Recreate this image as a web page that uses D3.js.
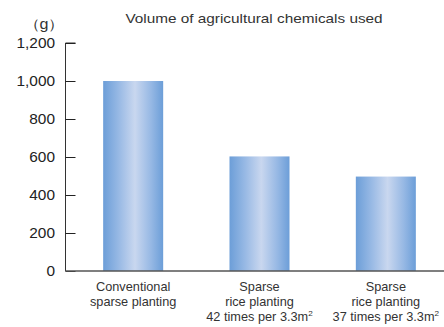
<!DOCTYPE html>
<html>
<head>
<meta charset="utf-8">
<script src="https://cdn.jsdelivr.net/npm/d3@7"></script>
<style>
  html, body { margin: 0; padding: 0; background: #fff; }
  svg { display: block; font-family: "Liberation Sans", Arial, sans-serif; }
</style>
</head>
<body>
<svg id="chart" width="444" height="327"></svg>
<script>
// Chart data
const categories = ["conv", "s42", "s37"];
const categoryLines = [
  ["Conventional", "sparse planting"],
  ["Sparse", "rice planting", "42 times per 3.3m|2"],
  ["Sparse", "rice planting", "37 times per 3.3m|2"]
];
const values = [1000, 603, 497];
const yTicks = [0, 200, 400, 600, 800, 1000, 1200];
const title = "Volume of agricultural chemicals used";
const unitLabel = "（g）";

const svg = d3.select("#chart");
const axisX = 65.5, baseY = 271, topY = 43;

const x = d3.scaleBand()
  .domain(categories)
  .range([70, 449])
  .paddingInner(0.525)
  .paddingOuter(0.2625);

const y = d3.scaleLinear().domain([0, 1200]).range([baseY, topY]);

// Text drawn slightly wide: placed by translate, stretched horizontally
function wideText(sel, px, py, sx) {
  return sel.append("text").attr("transform", `translate(${px},${py}) scale(${sx},1)`);
}

// Horizontal bar gradient: darker blue edges, pale centre
const defs = svg.append("defs");
const grad = defs.append("linearGradient").attr("id", "barGrad")
  .attr("x1", "0%").attr("x2", "100%").attr("y1", "0%").attr("y2", "0%");
[[0, "#6c9ed8"], [0.25, "#96b8e4"], [0.53, "#c9d7ef"], [0.8, "#96b8e4"], [1, "#6c9ed8"]]
  .forEach(([o, c]) => grad.append("stop").attr("offset", o).attr("stop-color", c));

// Bars
svg.append("g").selectAll("rect")
  .data(values)
  .join("rect")
  .attr("x", (d, i) => x(categories[i]))
  .attr("width", x.bandwidth())
  .attr("y", d => y(d))
  .attr("height", d => y(0) - y(d))
  .attr("fill", "url(#barGrad)");

// Y axis with inward ticks
const yAxis = d3.axisRight(y)
  .tickValues(yTicks)
  .tickSize(10)
  .tickFormat("");
const yg = svg.append("g").attr("transform", `translate(${axisX},0)`).call(yAxis);
yg.select(".domain").attr("stroke", "#333").attr("d", `M10,${topY}H0V${baseY}`);
yg.selectAll(".tick line").attr("stroke", "#222");

// Y tick labels
const yl = svg.append("g").attr("font-size", 14).attr("fill", "#222").attr("text-anchor", "end");
yTicks.forEach(v => {
  wideText(yl, 55, y(v) + 5, 1.1).text(d3.format(",")(v));
});

// X axis baseline
svg.append("line")
  .attr("x1", axisX).attr("x2", 444)
  .attr("y1", baseY).attr("y2", baseY)
  .attr("stroke", "#555").attr("stroke-width", 1.5);

// Category labels
const lab = svg.append("g").attr("font-size", 12.5).attr("fill", "#333").attr("text-anchor", "middle");
categoryLines.forEach((lines, i) => {
  const cx = x(categories[i]) + x.bandwidth() / 2;
  lines.forEach((line, j) => {
    const t = wideText(lab, cx, 291 + j * 15, 1.02);
    const [main, sup] = line.split("|");
    t.append("tspan").text(main);
    if (sup) t.append("tspan").attr("dy", -5).attr("font-size", 8).text(sup);
  });
});

// Title and unit
wideText(svg, 254, 23, 1.18).attr("text-anchor", "middle")
  .attr("font-size", 13).attr("fill", "#333").text(title);
wideText(svg, 44, 29, 1.15).attr("text-anchor", "middle")
  .attr("font-size", 14).attr("fill", "#333").text(unitLabel);
</script>
</body>
</html>
